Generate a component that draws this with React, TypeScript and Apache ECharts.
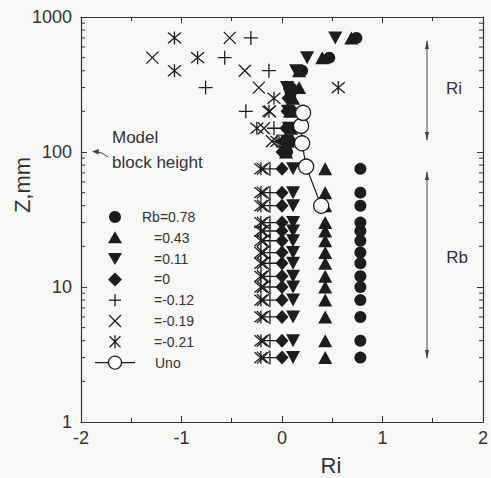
import React, { useEffect, useRef } from "react";
import * as echarts from "echarts";

// Heights (mm)
const Z_LOW = [3, 4, 6, 8, 10, 12, 15, 18, 22, 26, 30, 40, 50, 75];
const Z_HIGH = [100, 120, 150, 200, 250, 300, 400, 500, 700];

// Ri values below the block height (plotted at Rb)
const RB078_LOW = [0.78, 0.78, 0.78, 0.78, 0.78, 0.78, 0.78, 0.78, 0.78, 0.78, 0.78, 0.78, 0.78, 0.78];
const RB043_LOW = [0.43, 0.43, 0.43, 0.43, 0.43, 0.43, 0.43, 0.43, 0.43, 0.43, 0.43, 0.43, 0.43, 0.43];
const RB011_LOW = [0.11, 0.11, 0.11, 0.11, 0.11, 0.11, 0.11, 0.11, 0.11, 0.11, 0.11, 0.11, 0.11, 0.11];
const RB0_LOW = [0, 0, 0, 0, 0, 0, 0, 0, 0, 0, 0, 0, 0, 0];
const RBM012_LOW = [-0.12, -0.12, -0.12, -0.12, -0.12, -0.12, -0.12, -0.12, -0.12, -0.12, -0.12, -0.12, -0.12, -0.12];
const RBM019_LOW = [-0.19, -0.19, -0.19, -0.19, -0.19, -0.19, -0.19, -0.19, -0.19, -0.19, -0.19, -0.19, -0.19, -0.19];
const RBM021_LOW = [-0.21, -0.21, -0.21, -0.21, -0.21, -0.21, -0.21, -0.21, -0.21, -0.21, -0.21, -0.21, -0.21, -0.21];

// Ri values above the block height
const RB078_HIGH = [0.05, 0.08, 0.1, 0.1, 0.08, 0.07, 0.2, 0.47, 0.74];
const RB043_HIGH = [0.04, 0.06, 0.09, 0.08, 0.11, 0.17, 0.17, 0.4, 0.69];
const RB011_HIGH = [0.03, 0.05, 0.07, 0.06, 0.09, 0.05, 0.14, 0.25, 0.53];
const RB0_HIGH = [0.0, 0.02, 0.04, 0.05, 0.06, 0.1, null, null, null];
const RBM012_HIGH = [null, -0.03, -0.08, -0.36, null, -0.76, -0.13, -0.57, -0.31];
const RBM019_HIGH = [null, -0.1, -0.18, -0.12, null, -0.23, -0.37, -1.29, -0.52];
const RBM021_HIGH = [null, -0.05, -0.25, -0.13, -0.08, 0.56, -1.07, -0.84, -1.07];

// Uno profile
const UNO_Z = [40, 78, 116, 156, 195];
const UNO_RI = [0.39, 0.24, 0.2, 0.19, 0.21];

const SERIES_NAMES = ["Rb=0.78", "=0.43", "=0.11", "=0", "=-0.12", "=-0.19", "=-0.21", "Uno"];

// Axis ticks
const X_TICKS = [-2, -1, 0, 1, 2];
const Y_DECADES = [1, 10, 100];
const Y_MINOR_MULT = [2, 3, 4, 5, 6, 7, 8, 9];

const C = "#1d1d1d";
const FONT = "'Liberation Sans', Arial, Helvetica, sans-serif";

const PLUS = "path://M0,5L10,5M5,0L5,10";
const CROSS = "path://M0,0L10,10M10,0L0,10";
const STAR = "path://M0,0L10,10M10,0L0,10M5,-1L5,11";

function pairs(low: (number | null)[], high: (number | null)[]) {
  const out: number[][] = [];
  low.forEach((x, i) => {
    if (x !== null) out.push([x, Z_LOW[i]]);
  });
  high.forEach((x, i) => {
    if (x !== null) out.push([x, Z_HIGH[i]]);
  });
  return out;
}

function legendSymbol(kind: string, cx: number, cy: number): any[] {
  const line = (x1: number, y1: number, x2: number, y2: number) => ({
    type: "line",
    shape: { x1, y1, x2, y2 },
    style: { stroke: C, lineWidth: 1.3 },
  });
  switch (kind) {
    case "circle":
      return [{ type: "circle", shape: { cx, cy, r: 6 }, style: { fill: C } }];
    case "up":
      return [{ type: "polygon", shape: { points: [[cx, cy - 6.5], [cx + 7, cy + 5.5], [cx - 7, cy + 5.5]] }, style: { fill: C } }];
    case "down":
      return [{ type: "polygon", shape: { points: [[cx - 7, cy - 5.5], [cx + 7, cy - 5.5], [cx, cy + 6.5]] }, style: { fill: C } }];
    case "diamond":
      return [{ type: "polygon", shape: { points: [[cx, cy - 7], [cx + 7, cy], [cx, cy + 7], [cx - 7, cy]] }, style: { fill: C } }];
    case "plus":
      return [line(cx - 6, cy, cx + 6, cy), line(cx, cy - 6, cx, cy + 6)];
    case "cross":
      return [line(cx - 6, cy - 6, cx + 6, cy + 6), line(cx + 6, cy - 6, cx - 6, cy + 6)];
    case "star":
      return [
        line(cx - 5.5, cy - 5.5, cx + 5.5, cy + 5.5),
        line(cx + 5.5, cy - 5.5, cx - 5.5, cy + 5.5),
        line(cx, cy - 6.5, cx, cy + 6.5),
      ];
    case "uno":
      return [
        line(cx - 20, cy, cx - 7, cy),
        line(cx + 7, cy, cx + 20, cy),
        { type: "circle", shape: { cx, cy, r: 6.5 }, style: { fill: "#fff", stroke: C, lineWidth: 1.3 } },
      ];
  }
  return [];
}

export default function App() {
  const ref = useRef<HTMLDivElement>(null);

  useEffect(() => {
    if (!ref.current) return;
    const chart = echarts.init(ref.current, undefined, { renderer: "svg" });

    const minorTicks: number[][] = [];
    Y_DECADES.forEach((d) => Y_MINOR_MULT.forEach((m) => minorTicks.push([-2, d * m])));

    const scatterBase = {
      type: "scatter",
      xAxisIndex: 0,
      yAxisIndex: 0,
      itemStyle: { color: C, opacity: 1 },
      emphasis: { disabled: true },
    };
    const strokeStyle = { color: "transparent", borderColor: C, borderWidth: 1.3, opacity: 1 };

    const legendKinds = ["circle", "up", "down", "diamond", "plus", "cross", "star", "uno"];
    const legendGraphics: any[] = [];
    legendKinds.forEach((k, i) => {
      const cy = 217 + i * 20.8;
      legendSymbol(k, 115, cy).forEach((g) => legendGraphics.push(g));
      legendGraphics.push({
        type: "text",
        x: i === 0 ? 142 : k === "uno" ? 155 : 154,
        y: cy,
        style: {
          text: SERIES_NAMES[i],
          font: `14px ${FONT}`,
          fill: "#333",
          align: "left",
          verticalAlign: "middle",
          textAlign: "left",
          textVerticalAlign: "middle",
        },
      });
    });

    const arrowLine = (x: number, y1: number, y2: number) => [
      { type: "line", shape: { x1: x, y1, x2: x, y2 }, style: { stroke: "#444", lineWidth: 1 } },
      { type: "polygon", shape: { points: [[x, y1 - 1], [x - 2, y1 + 8], [x + 2, y1 + 8]] }, style: { fill: "#444" } },
      { type: "polygon", shape: { points: [[x, y2 + 1], [x - 2, y2 - 8], [x + 2, y2 - 8]] }, style: { fill: "#444" } },
    ];

    const text = (t: string, x: number, y: number, size: number, extra: any = {}) => ({
      type: "text",
      x,
      y,
      ...extra,
      style: {
        text: t,
        font: `${size}px ${FONT}`,
        fill: "#333",
        align: "center",
        verticalAlign: "middle",
        textAlign: "center",
        textVerticalAlign: "middle",
      },
    });

    const yAxisBase = {
      type: "log",
      logBase: 10,
      min: 1,
      max: 1000,
      axisLine: { show: true, onZero: false, lineStyle: { color: "#333", width: 1.2 } },
      axisTick: { show: true, inside: true, length: 6, lineStyle: { color: "#333" } },
      splitLine: { show: false },
    };

    const option: any = {
      animation: false,
      backgroundColor: "#f8f8f6",
      grid: { left: 81, right: 6, top: 17, bottom: 56 },
      xAxis: [
        {
          type: "value",
          min: X_TICKS[0],
          max: X_TICKS[X_TICKS.length - 1],
          interval: 1,
          position: "bottom",
          axisLine: { onZero: false, lineStyle: { color: "#333", width: 1.2 } },
          axisTick: { inside: true, length: 6, lineStyle: { color: "#333" } },
          minorTick: { show: true, splitNumber: 2, length: 4, lineStyle: { color: "#333" } },
          splitLine: { show: false },
          axisLabel: { fontSize: 18, color: "#333", fontFamily: FONT, margin: 7 },
        },
        {
          type: "value",
          min: X_TICKS[0],
          max: X_TICKS[X_TICKS.length - 1],
          interval: 1,
          position: "top",
          axisLine: { onZero: false, lineStyle: { color: "#333", width: 1.2 } },
          axisTick: { inside: true, length: 6, lineStyle: { color: "#333" } },
          minorTick: { show: true, splitNumber: 2, length: 4, lineStyle: { color: "#333" } },
          splitLine: { show: false },
          axisLabel: { show: false },
        },
      ],
      yAxis: [
        {
          ...yAxisBase,
          position: "left",
          axisLabel: {
            fontSize: 18,
            color: "#333",
            fontFamily: FONT,
            margin: 9,
            formatter: (v: number) => String(Math.round(v)),
          },
        },
        {
          ...yAxisBase,
          position: "right",
          axisLabel: { show: false },
        },
      ],
      graphic: [
        ...legendGraphics,
        ...arrowLine(427, 41, 140),
        ...arrowLine(427, 172, 358),
        text("Ri", 454, 88, 17),
        text("Rb", 457, 257, 17),
        {
          type: "text",
          x: 112,
          y: 137,
          style: { text: "Model", font: `17px ${FONT}`, fill: "#333", align: "left", verticalAlign: "middle", textAlign: "left", textVerticalAlign: "middle" },
        },
        {
          type: "text",
          x: 112,
          y: 162,
          style: { text: "block height", font: `17px ${FONT}`, fill: "#333", align: "left", verticalAlign: "middle", textAlign: "left", textVerticalAlign: "middle" },
        },
        { type: "polyline", shape: { points: [[108, 157], [102, 153], [96, 152]] }, style: { stroke: "#444", lineWidth: 1, fill: "none" } },
        { type: "polygon", shape: { points: [[92, 151.5], [99, 149], [98.5, 154.5]] }, style: { fill: "#444" } },
        text("Z,mm", 22, 185, 22, { rotation: Math.PI / 2 }),
        text("Ri", 331, 465, 22),
      ],
      series: [
        {
          type: "custom",
          xAxisIndex: 0,
          yAxisIndex: 0,
          silent: true,
          clip: false,
          encode: { x: 0, y: 1 },
          data: minorTicks,
          renderItem: (params: any, api: any) => {
            const v = api.value(1);
            const l = api.coord([-2, v]);
            const r = api.coord([2, v]);
            return {
              type: "group",
              children: [
                { type: "line", shape: { x1: l[0], y1: l[1], x2: l[0] + 4, y2: l[1] }, style: { stroke: "#333", lineWidth: 1 } },
                { type: "line", shape: { x1: r[0] - 4, y1: r[1], x2: r[0], y2: r[1] }, style: { stroke: "#333", lineWidth: 1 } },
              ],
            };
          },
        },
        { ...scatterBase, name: SERIES_NAMES[6], symbol: STAR, symbolSize: 13, itemStyle: strokeStyle, data: pairs(RBM021_LOW, RBM021_HIGH) },
        { ...scatterBase, name: SERIES_NAMES[5], symbol: CROSS, symbolSize: 12, itemStyle: strokeStyle, data: pairs(RBM019_LOW, RBM019_HIGH) },
        { ...scatterBase, name: SERIES_NAMES[4], symbol: PLUS, symbolSize: 14, itemStyle: strokeStyle, data: pairs(RBM012_LOW, RBM012_HIGH) },
        { ...scatterBase, name: SERIES_NAMES[3], symbol: "diamond", symbolSize: [13, 14], data: pairs(RB0_LOW, RB0_HIGH) },
        { ...scatterBase, name: SERIES_NAMES[2], symbol: "triangle", symbolRotate: 180, symbolSize: [14, 13], data: pairs(RB011_LOW, RB011_HIGH) },
        { ...scatterBase, name: SERIES_NAMES[1], symbol: "triangle", symbolSize: [14, 13], data: pairs(RB043_LOW, RB043_HIGH) },
        { ...scatterBase, name: SERIES_NAMES[0], symbol: "circle", symbolSize: 12, data: pairs(RB078_LOW, RB078_HIGH) },
        {
          type: "line",
          name: SERIES_NAMES[7],
          xAxisIndex: 0,
          yAxisIndex: 0,
          symbol: "circle",
          symbolSize: 15,
          showAllSymbol: true,
          lineStyle: { color: C, width: 1.2 },
          itemStyle: { color: "#fff", borderColor: C, borderWidth: 1.3 },
          emphasis: { disabled: true },
          data: UNO_Z.map((z, i) => [UNO_RI[i], z]),
        },
      ],
    };

    chart.setOption(option);
    return () => chart.dispose();
  }, []);

  return (
    <div
      ref={ref}
      style={{ position: "fixed", left: 0, top: 0, width: 491, height: 478 }}
    />
  );
}
